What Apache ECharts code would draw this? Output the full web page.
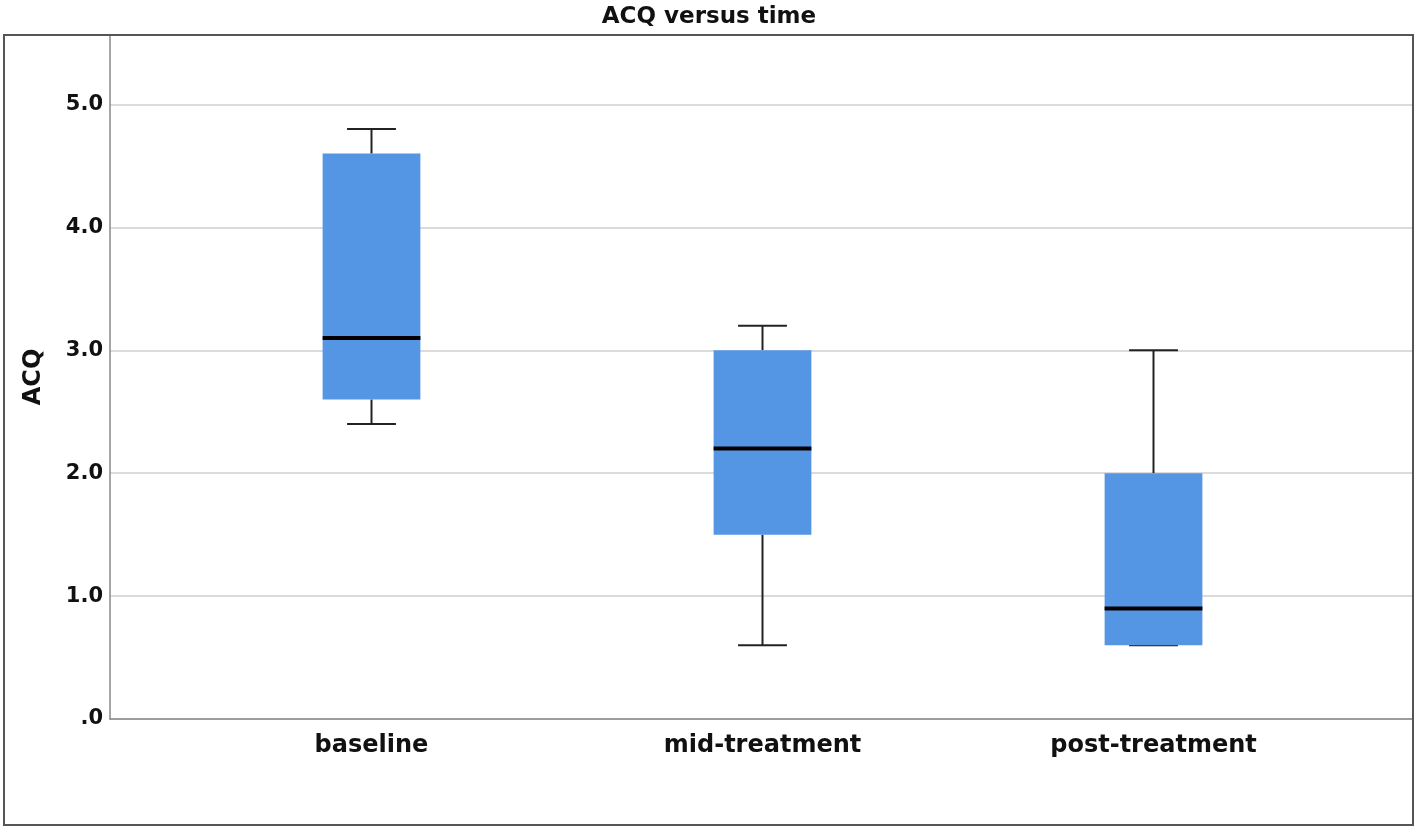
<!DOCTYPE html>
<html>
<head>
<meta charset="utf-8">
<script src="https://cdn.jsdelivr.net/npm/echarts@6/dist/echarts.min.js"></script>
<style>html,body{margin:0;padding:0;background:#fff;}#c{width:1418px;height:830px;}</style>
</head>
<body>
<div id="c"></div>
<script>
const categories = ['baseline', 'mid-treatment', 'post-treatment'];
const whiskerLow = [2.4, 0.6, 0.6];
const q1 = [2.6, 1.5, 0.6];
const median = [3.1, 2.2, 0.9];
const q3 = [4.6, 3.0, 2.0];
const whiskerHigh = [4.8, 3.2, 3.0];
const yTicks = [0, 1, 2, 3, 4, 5];

const FONT = '"DejaVu Sans", "Open Sans", sans-serif';
const Y_MAX = 5.565;

const boxData = categories.map((c, i) => [i, whiskerLow[i], q1[i], median[i], q3[i], whiskerHigh[i]]);

const chart = echarts.init(document.getElementById('c'));
chart.setOption({
  animation: false,
  title: {
    text: 'ACQ versus time', left: 'center', top: 1,
    textStyle: { fontFamily: FONT, fontSize: 23, fontWeight: 'bold', color: '#111' }
  },
  graphic: [{
    type: 'rect', shape: { x: 4, y: 35, width: 1409, height: 790 },
    style: { fill: 'none', stroke: '#555', lineWidth: 2 }, z: 100
  }],
  grid: [
    { left: 110, right: 5, top: 35, bottom: 111 },
    { left: 176, right: 69, top: 35, bottom: 111 }
  ],
  xAxis: [
    { gridIndex: 0, type: 'value', min: 0, max: 1, axisLabel: { show: false }, axisTick: { show: false },
      splitLine: { show: false }, axisLine: { lineStyle: { color: '#888', width: 1.5 } } },
    { gridIndex: 1, type: 'category', data: categories, axisLine: { show: false }, axisTick: { show: false },
      axisLabel: { margin: 15, fontFamily: FONT, fontSize: 24, fontWeight: 'bold', color: '#111' } }
  ],
  yAxis: [
    { gridIndex: 0, type: 'value', min: 0, max: Y_MAX, interval: 1,
      axisLine: { show: true, lineStyle: { color: '#888', width: 1.5 } }, axisTick: { show: false },
      splitLine: { lineStyle: { color: '#cfcfcf', width: 1.5 } },
      axisLabel: { margin: 7, fontFamily: FONT, fontSize: 21, fontWeight: 'bold', color: '#111',
        formatter: v => (yTicks.indexOf(v) < 0 ? '' : (v === 0 ? '.0' : v.toFixed(1))) },
      name: 'ACQ', nameLocation: 'middle', nameGap: 64, nameRotate: 90,
      nameTextStyle: { fontFamily: FONT, fontSize: 24, fontWeight: 'bold', color: '#111' } },
    { gridIndex: 1, type: 'value', min: 0, max: Y_MAX, show: false }
  ],
  series: [{
    type: 'custom', xAxisIndex: 1, yAxisIndex: 1, data: boxData,
    renderItem: function (params, api) {
      const x = api.value(0);
      const band = api.size([1, 0])[0];
      const bw = band * 0.25;
      const cw = bw * 0.5;
      const pLow = api.coord([x, api.value(1)]);
      const pQ1 = api.coord([x, api.value(2)]);
      const pMed = api.coord([x, api.value(3)]);
      const pQ3 = api.coord([x, api.value(4)]);
      const pHigh = api.coord([x, api.value(5)]);
      const cx = pLow[0];
      const wStyle = { stroke: '#222', lineWidth: 2 };
      return {
        type: 'group', children: [
          { type: 'line', shape: { x1: cx, y1: pLow[1], x2: cx, y2: pQ1[1] }, style: wStyle },
          { type: 'line', shape: { x1: cx, y1: pHigh[1], x2: cx, y2: pQ3[1] }, style: wStyle },
          { type: 'line', shape: { x1: cx - cw / 2, y1: pLow[1], x2: cx + cw / 2, y2: pLow[1] }, style: wStyle },
          { type: 'line', shape: { x1: cx - cw / 2, y1: pHigh[1], x2: cx + cw / 2, y2: pHigh[1] }, style: wStyle },
          { type: 'rect', shape: { x: cx - bw / 2, y: pQ3[1], width: bw, height: pQ1[1] - pQ3[1] },
            style: { fill: '#5596E4', stroke: null } },
          { type: 'line', shape: { x1: cx - bw / 2, y1: pMed[1], x2: cx + bw / 2, y2: pMed[1] },
            style: { stroke: '#000', lineWidth: 4 } }
        ]
      };
    }
  }]
});
</script>
</body>
</html>
